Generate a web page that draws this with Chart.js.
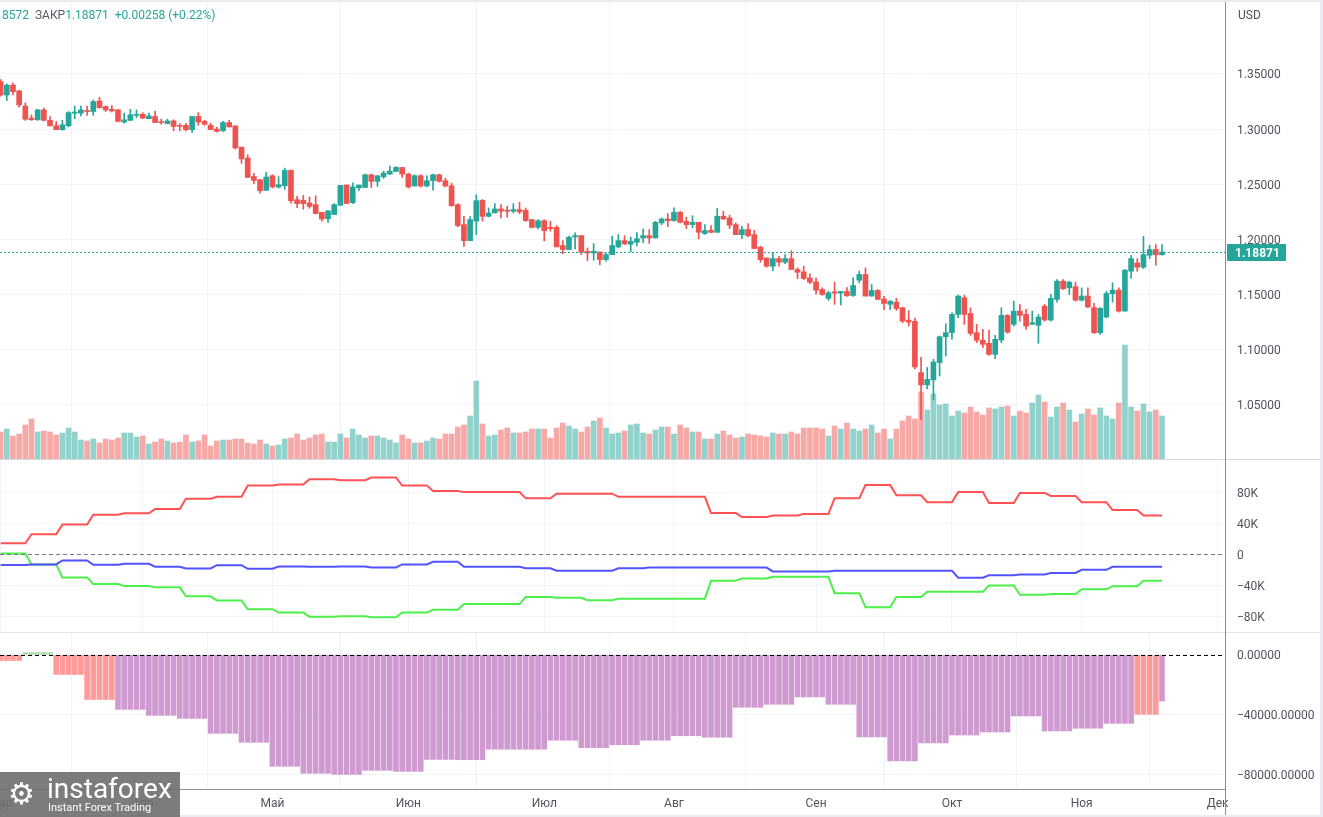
<!DOCTYPE html>
<html>
<head>
<meta charset="utf-8">
<script src="https://cdn.jsdelivr.net/npm/chart.js@4.4.0/dist/chart.umd.min.js"></script>
<style>
  body { margin: 0; background: #fff; font-family: Roboto, "Liberation Sans", sans-serif; }
  #wrap { position: relative; width: 1323px; height: 817px; overflow: hidden; background: #fff; }
  #wrap canvas { position: absolute; left: 0; }
  .hline { position: absolute; left: 0; height: 1px; }
  .vline { position: absolute; top: 0; width: 1px; }
  #legend { position: absolute; left: 2px; top: 8px; font-size: 12px; color: #26a69a; white-space: pre; }
  #legend .k { color: #555a66; }
  #usd { position: absolute; left: 1238px; top: 8px; font-size: 12px; color: #50535e; }
  #logo { position: absolute; left: 0; top: 772px; width: 180px; height: 45px; background: rgba(110,110,110,0.9); color: #fff; }
  #logo .big { position: absolute; left: 47px; top: 0px; font-size: 28px; }
  #logo .small { position: absolute; left: 48px; top: 29px; font-size: 11px; }
  #logo .icon { position: absolute; left: 8px; top: 4px; font-size: 30px; }
</style>
</head>
<body>
<div id="wrap">
  <canvas id="priceChart" width="1323" height="459" style="top:0"></canvas>
  <canvas id="cotChart" width="1323" height="172" style="top:460px"></canvas>
  <canvas id="histChart" width="1323" height="184" style="top:633px"></canvas>

  <div class="hline" style="top:459px;width:1323px;background:#d6d9e0"></div>
  <div class="hline" style="top:632px;width:1323px;background:#e0e3eb"></div>
  <div class="hline" style="top:789px;width:1225px;background:#8a8e99"></div>
  <div class="vline" style="left:1225px;height:817px;background:#8a8e99"></div>
  <div class="hline" style="top:0;width:1323px;height:2px;background:#e9ebf0"></div>
  <div class="vline" style="left:1320px;height:817px;width:3px;background:#e9ebf0"></div>
  <div class="hline" style="top:815px;width:1323px;height:2px;background:#e9ebf0"></div>

  <div id="legend">8572  <span class="k">ЗАКР</span>1.18871  +0.00258 (+0.22%)</div>
  <div id="usd">USD</div>
  <div id="logo"><span class="icon">⚙</span><span class="big">instaforex</span><span class="small">Instant Forex Trading</span></div>
</div>

<script>
// daily candles, trading day index 0 = 1 Mar
const opens = [
  1.3430,1.3310,1.3400,1.3347,1.3210,1.3100,1.3085,1.3175,1.3080,1.3030,
  1.2995,1.3030,1.3145,1.3145,1.3170,1.3160,1.3255,1.3205,1.3180,1.3175,
  1.3065,1.3080,1.3125,1.3135,1.3095,1.3115,1.3065,1.3050,1.3075,1.3030,
  1.3035,1.2995,1.3115,1.3070,1.3035,1.3000,1.2985,1.3060,1.3030,1.2837,
  1.2738,1.2571,1.2542,1.2445,1.2578,1.2475,1.2488,1.2626,1.2361,1.2355,
  1.2331,1.2316,1.2246,1.2189,1.2226,1.2310,1.2494,1.2334,1.2468,1.2472,
  1.2587,1.2527,1.2569,1.2593,1.2617,1.2653,1.2593,1.2485,1.2578,1.2485,
  1.2533,1.2587,1.2533,1.2487,1.2316,1.2135,1.1990,1.2167,1.2355,1.2210,
  1.2241,1.2277,1.2265,1.2256,1.2271,1.2265,1.2180,1.2110,1.2171,1.2111,
  1.2110,1.1945,1.1909,1.2023,1.2035,1.1893,1.1878,1.1887,1.1818,1.1863,
  1.1933,1.1990,1.1957,1.1975,1.2014,1.2035,1.2014,1.2150,1.2186,1.2171,
  1.2246,1.2165,1.2135,1.2156,1.2054,1.2084,1.2065,1.2211,1.2196,1.2135,
  1.2044,1.2090,1.2044,1.1930,1.1833,1.1758,1.1827,1.1794,1.1827,1.1728,
  1.1707,1.1652,1.1616,1.1547,1.1466,1.1526,1.1514,1.1529,1.1493,1.1631,
  1.1683,1.1487,1.1538,1.1460,1.1412,1.1432,1.1382,1.1269,1.1258,1.0794,
  1.0682,1.0727,1.0884,1.1119,1.1156,1.1321,1.1472,1.1330,1.1155,1.1086,
  1.1059,1.0959,1.1089,1.1312,1.1231,1.1351,1.1321,1.1231,1.1222,1.1396,
  1.1270,1.1457,1.1622,1.1562,1.1571,1.1450,1.1487,1.1382,1.1155,1.1297,
  1.1508,1.1541,1.1351,1.1713,1.1788,1.1749,1.1857,1.1909,1.1862
];
const highs = [
  1.3450,1.3410,1.3420,1.3350,1.3240,1.3130,1.3180,1.3190,1.3115,1.3070,
  1.3080,1.3160,1.3210,1.3210,1.3210,1.3265,1.3290,1.3210,1.3215,1.3180,
  1.3145,1.3180,1.3175,1.3150,1.3145,1.3165,1.3090,1.3090,1.3085,1.3050,
  1.3050,1.3115,1.3150,1.3080,1.3055,1.3020,1.3070,1.3080,1.3030,1.2837,
  1.2768,1.2600,1.2542,1.2610,1.2587,1.2570,1.2647,1.2632,1.2392,1.2400,
  1.2385,1.2397,1.2246,1.2260,1.2325,1.2490,1.2494,1.2513,1.2494,1.2593,
  1.2593,1.2578,1.2620,1.2667,1.2662,1.2653,1.2602,1.2587,1.2587,1.2578,
  1.2593,1.2593,1.2556,1.2511,1.2325,1.2210,1.2208,1.2406,1.2362,1.2286,
  1.2325,1.2316,1.2301,1.2325,1.2337,1.2286,1.2180,1.2180,1.2180,1.2165,
  1.2126,1.1990,1.2030,1.2060,1.2035,1.1923,1.1963,1.1887,1.1878,1.2029,
  1.2045,1.2035,1.2023,1.2062,1.2095,1.2090,1.2165,1.2195,1.2235,1.2286,
  1.2256,1.2202,1.2216,1.2156,1.2135,1.2126,1.2281,1.2256,1.2220,1.2150,
  1.2120,1.2144,1.2084,1.1940,1.1833,1.1878,1.1848,1.1863,1.1899,1.1743,
  1.1758,1.1688,1.1652,1.1562,1.1532,1.1614,1.1529,1.1565,1.1652,1.1713,
  1.1743,1.1592,1.1547,1.1484,1.1448,1.1466,1.1382,1.1355,1.1287,1.0932,
  1.0840,1.0914,1.1125,1.1236,1.1336,1.1496,1.1496,1.1381,1.1231,1.1185,
  1.1179,1.1131,1.1381,1.1320,1.1442,1.1411,1.1366,1.1351,1.1321,1.1411,
  1.1502,1.1637,1.1637,1.1622,1.1613,1.1562,1.1562,1.1421,1.1382,1.1532,
  1.1607,1.1562,1.1728,1.1857,1.1827,1.2029,1.1948,1.1954,1.1954
];
const lows = [
  1.3300,1.3260,1.3310,1.3200,1.3080,1.3080,1.3080,1.3075,1.3030,1.2995,
  1.2990,1.3020,1.3095,1.3120,1.3125,1.3125,1.3190,1.3160,1.3155,1.3065,
  1.3055,1.3080,1.3105,1.3095,1.3095,1.3060,1.3045,1.3050,1.2985,1.2985,
  1.2985,1.2970,1.3035,1.3035,1.2995,1.2975,1.2980,1.3020,1.2820,1.2690,
  1.2560,1.2505,1.2420,1.2445,1.2466,1.2466,1.2456,1.2330,1.2289,1.2274,
  1.2283,1.2235,1.2166,1.2155,1.2226,1.2310,1.2326,1.2325,1.2443,1.2472,
  1.2472,1.2482,1.2554,1.2587,1.2617,1.2563,1.2466,1.2485,1.2476,1.2476,
  1.2448,1.2520,1.2476,1.2300,1.2114,1.1938,1.1990,1.2045,1.2167,1.2205,
  1.2241,1.2196,1.2202,1.2241,1.2232,1.2165,1.2105,1.2096,1.1986,1.2075,
  1.1933,1.1870,1.1909,1.1913,1.1863,1.1806,1.1812,1.1769,1.1803,1.1863,
  1.1924,1.1954,1.1888,1.1942,1.1972,1.1966,1.2014,1.2135,1.2116,1.2165,
  1.2150,1.2099,1.2105,1.2005,1.2045,1.2059,1.2065,1.2180,1.2099,1.2044,
  1.2008,1.2023,1.1918,1.1794,1.1749,1.1718,1.1758,1.1782,1.1728,1.1646,
  1.1637,1.1600,1.1504,1.1493,1.1448,1.1412,1.1406,1.1484,1.1484,1.1607,
  1.1487,1.1487,1.1457,1.1365,1.1365,1.1357,1.1245,1.1215,1.0827,1.0365,
  1.0648,1.0546,1.0763,1.0944,1.1096,1.1291,1.1231,1.1131,1.1065,1.1020,
  1.0950,1.0920,1.1065,1.1149,1.1216,1.1260,1.1185,1.1231,1.1059,1.1261,
  1.1261,1.1433,1.1547,1.1502,1.1442,1.1442,1.1381,1.1149,1.1140,1.1291,
  1.1432,1.1342,1.1351,1.1649,1.1713,1.1737,1.1827,1.1767,1.1857
];
const closes = [
  1.3310,1.3400,1.3340,1.3220,1.3090,1.3085,1.3175,1.3080,1.3030,1.2995,
  1.3040,1.3150,1.3155,1.3175,1.3160,1.3250,1.3195,1.3175,1.3165,1.3070,
  1.3085,1.3130,1.3135,1.3100,1.3120,1.3060,1.3060,1.3075,1.3025,1.3025,
  1.2995,1.3115,1.3065,1.3045,1.2995,1.2980,1.3060,1.3020,1.2830,1.2730,
  1.2563,1.2535,1.2442,1.2566,1.2476,1.2497,1.2626,1.2352,1.2325,1.2325,
  1.2300,1.2235,1.2186,1.2260,1.2316,1.2490,1.2326,1.2477,1.2494,1.2587,
  1.2527,1.2578,1.2602,1.2620,1.2653,1.2593,1.2476,1.2578,1.2485,1.2533,
  1.2587,1.2527,1.2485,1.2306,1.2126,1.1990,1.2180,1.2352,1.2210,1.2240,
  1.2277,1.2256,1.2256,1.2271,1.2250,1.2171,1.2110,1.2170,1.2080,1.2099,
  1.1933,1.1909,1.2020,1.2035,1.1884,1.1878,1.1893,1.1818,1.1863,1.1945,
  1.1990,1.1960,1.1984,1.2008,1.2035,1.2014,1.2156,1.2186,1.2171,1.2246,
  1.2156,1.2135,1.2156,1.2065,1.2081,1.2065,1.2211,1.2186,1.2129,1.2044,
  1.2090,1.2035,1.1918,1.1818,1.1758,1.1827,1.1794,1.1827,1.1728,1.1703,
  1.1646,1.1613,1.1541,1.1502,1.1517,1.1514,1.1529,1.1490,1.1583,1.1683,
  1.1487,1.1538,1.1457,1.1420,1.1439,1.1375,1.1260,1.1251,1.0845,1.0682,
  1.0733,1.0889,1.1119,1.1156,1.1321,1.1487,1.1321,1.1149,1.1086,1.1050,
  1.0959,1.1095,1.1312,1.1161,1.1351,1.1312,1.1216,1.1246,1.1297,1.1270,
  1.1466,1.1622,1.1553,1.1613,1.1450,1.1487,1.1388,1.1155,1.1376,1.1511,
  1.1541,1.1351,1.1722,1.1827,1.1749,1.1863,1.1909,1.18613,1.18871
];
const volumes = [
  27,30,23,25,34,40,27,28,27,24, 26,31,27,19,18,20,16,20,19,21,
  26,26,22,23,15,17,20,18,16,17, 24,17,18,24,13,18,19,19,20,20,
  16,15,19,15,13,14,20,21,25,19, 21,24,25,17,17,25,21,30,24,21,
  23,23,21,19,16,24,20,16,16,18, 21,20,25,25,32,34,43,78,35,23,
  24,29,31,26,26,27,30,30,30,21, 31,36,33,30,27,32,38,41,31,25,
  26,28,34,35,26,25,29,32,32,25, 34,31,27,27,20,20,25,28,24,21,
  22,25,24,23,22,26,25,25,27,25, 31,31,31,30,23,33,30,36,30,28,
  30,34,26,30,20,30,38,43,40,67, 49,65,54,55,43,48,46,52,47,44,
  51,50,52,53,43,48,46,56,64,57, 42,52,56,49,37,45,50,44,51,43,
  40,56,114,52,48,55,47,49,43
];

// weekly COT net positions (one value per report week)
const commercials = [
  14300,25800,38200,51000,52700,58200,71400,74000,88500,89800,
  96600,95400,98800,88500,81300,80000,80000,72000,78000,78000,
  74000,74000,74000,53000,48000,50000,52000,72000,89000,76000,
  67000,80000,66000,79000,75000,67000,57000,50000
];
const smallTraders = [
  -13800,-13000,-7900,-13400,-12200,-16000,-18100,-13900,-18600,-15600,
  -16000,-15600,-16900,-13000,-9600,-16000,-16000,-18000,-21000,-21000,
  -18000,-17000,-17000,-17000,-17000,-22000,-22000,-21000,-21000,-21000,
  -21000,-30000,-27000,-26000,-24000,-20000,-16000,-16000
];
const largeSpecs = [
  1000,-13000,-29700,-38200,-40700,-42500,-54000,-59500,-70600,-74900,
  -80400,-79600,-80900,-74900,-71400,-64000,-64000,-55000,-56000,-59000,
  -57000,-57000,-57000,-34000,-31000,-29000,-29000,-50000,-68000,-55000,
  -48000,-48000,-40000,-52000,-51000,-45000,-41000,-34000
];

// weekly net histogram, plus the value published on the last day
const netHist = [
  -3800,1500,-13100,-29800,-36400,-40400,-42400,-52400,-58400,-74400,
  -79100,-79800,-77100,-77800,-69800,-70000,-63000,-63000,-57000,-62000,
  -60000,-57000,-54000,-55000,-35000,-33000,-28100,-33000,-54800,-70800,
  -58800,-53500,-51500,-40800,-50800,-49000,-45700,-39700
];
const netHistLatest = -30800;

const monthStarts = [0, 23, 44, 66, 88, 109, 132, 154, 175, 197];
const monthNames  = ['Мар', 'Апр', 'Май', 'Июн', 'Июл', 'Авг', 'Сен', 'Окт', 'Ноя', 'Дек'];
const priceTicks  = [1.05, 1.10, 1.15, 1.20, 1.25, 1.30, 1.35];
const cotTicks    = [-80000, -40000, 0, 40000, 80000];
const histTicks   = [-80000, -40000, 0];

// styles
const UP = '#26a69a', DOWN = '#ef5350';
const UP_VOL = 'rgba(38,166,154,0.5)', DOWN_VOL = 'rgba(239,83,80,0.5)';
const GRID = '#f0f3fa', TEXT = '#50535e';
const HIST_PURPLE = '#ce9ad0', HIST_SALMON = '#ff9a9a', HIST_GREEN = '#a5d6a7';
const salmonGroups = [0, 2, 3, 37];
const X_MIN = -0.1, X_MAX = 198.2, AXIS_W = 98;

Chart.defaults.font.family = 'Roboto, "Liberation Sans", sans-serif';
Chart.defaults.font.size = 12;
Chart.defaults.color = TEXT;

const days = closes.map((_, i) => i);
const last = closes.length - 1;
const isUp = i => closes[i] >= opens[i];
const weekly = arr => days.map(i => ({ x: i, y: arr[Math.floor(i / 5)] }));
const histGroup = i => Math.floor((i + 1) / 5);
const histValue = i => i === last ? netHistLatest : netHist[histGroup(i)];

function minus(s) {
    return String(s).replace('-', '\u2212');
}

function xScale(showLabels) {
    return {
        type: 'linear',
        min: X_MIN,
        max: X_MAX,
        offset: false,
        afterBuildTicks: s => { s.ticks = monthStarts.map(v => ({ value: v })); },
        afterFit: s => {
            s.height = showLabels ? 28 : 0;
            s.paddingLeft = 0;
            s.paddingRight = 0;
        },
        grid: { color: GRID, drawTicks: false },
        border: { display: false },
        ticks: {
            display: showLabels,
            autoSkip: false,
            maxRotation: 0,
            padding: 8,
            color: TEXT,
            callback: v => monthNames[monthStarts.indexOf(v)]
        }
    };
}

function yScale(min, max, ticks, format) {
    return {
        position: 'right',
        min: min,
        max: max,
        afterBuildTicks: s => { s.ticks = ticks.map(v => ({ value: v })); },
        afterFit: s => {
            s.width = AXIS_W;
            s.paddingTop = 0;
            s.paddingBottom = 0;
        },
        grid: { color: GRID, drawTicks: false },
        border: { display: false },
        ticks: { padding: 12, labelOffset: 1.5, color: TEXT, callback: format }
    };
}

const paneLines = {
    id: 'paneLines',
    afterDatasetsDraw(chart, args, opts) {
        const { ctx, chartArea: a, scales } = chart;
        (opts.lines || []).forEach(l => {
            const py = Math.round(scales.y.getPixelForValue(l.value)) + 0.5;
            ctx.save();
            ctx.strokeStyle = l.color;
            ctx.lineWidth = 1;
            ctx.setLineDash(l.dash);
            ctx.beginPath();
            ctx.moveTo(a.left, py);
            ctx.lineTo(a.right, py);
            ctx.stroke();
            if (l.tag) {
                ctx.setLineDash([]);
                ctx.fillStyle = l.color;
                ctx.fillRect(a.right + 2, py - 8.5, 59, 17);
                ctx.fillStyle = '#fff';
                ctx.font = 'bold 12px Roboto, "Liberation Sans", sans-serif';
                ctx.textBaseline = 'middle';
                ctx.fillText(l.tag, a.right + 10, py + 1);
            }
            ctx.restore();
        });
    }
};

const baseOptions = {
    responsive: false,
    animation: false,
    events: [],
    layout: { padding: 0 },
};

new Chart(document.getElementById('priceChart'), {
    type: 'bar',
    plugins: [paneLines],
    data: {
        datasets: [{
            data: days.map(i => ({ x: i, y: [opens[i], closes[i]] })),
            backgroundColor: days.map(i => isUp(i) ? UP : DOWN),
            barThickness: 5,
            minBarLength: 1,
            grouped: false,
            yAxisID: 'y',
            order: 0
        }, {
            data: days.map(i => ({ x: i, y: [lows[i], highs[i]] })),
            backgroundColor: days.map(i => isUp(i) ? UP : DOWN),
            barThickness: 1,
            grouped: false,
            yAxisID: 'y',
            order: 1
        }, {
            data: days.map(i => ({ x: i, y: volumes[i] })),
            backgroundColor: days.map(i => isUp(i) ? UP_VOL : DOWN_VOL),
            barThickness: 5,
            grouped: false,
            yAxisID: 'yv',
            order: 2
        }]
    },
    options: {
        ...baseOptions,
        plugins: {
            legend: { display: false },
            tooltip: { enabled: false },
            paneLines: { lines: [{ value: closes[last], color: UP, dash: [2, 2], tag: closes[last].toFixed(5) }] }
        },
        scales: {
            x: xScale(false),
            y: yScale(1.00105, 1.41707, priceTicks, v => v.toFixed(5)),
            yv: { display: false, min: 0, max: 459 }
        }
    }
});

new Chart(document.getElementById('cotChart'), {
    type: 'line',
    plugins: [paneLines],
    data: {
        datasets: [
            { data: weekly(commercials), borderColor: '#ff5252' },
            { data: weekly(smallTraders), borderColor: '#5252ff' },
            { data: weekly(largeSpecs), borderColor: '#4cf04c' }
        ].map(d => ({ ...d, borderWidth: 2, pointRadius: 0, tension: 0, fill: false }))
    },
    options: {
        ...baseOptions,
        plugins: {
            legend: { display: false },
            tooltip: { enabled: false },
            paneLines: { lines: [{ value: 0, color: '#787b86', dash: [4, 3] }] }
        },
        scales: {
            x: xScale(false),
            y: yScale(-99900, 121300, cotTicks, v => v === 0 ? '0' : minus((v / 1000) + 'K'))
        }
    }
});

new Chart(document.getElementById('histChart'), {
    type: 'bar',
    plugins: [paneLines],
    data: {
        datasets: [{
            data: days.map(i => ({ x: i, y: histValue(i) })),
            backgroundColor: days.map(i => {
                if (histValue(i) > 0) return HIST_GREEN;
                if (i !== last && salmonGroups.includes(histGroup(i))) return HIST_SALMON;
                return HIST_PURPLE;
            }),
            barThickness: 5,
            grouped: false
        }]
    },
    options: {
        ...baseOptions,
        plugins: {
            legend: { display: false },
            tooltip: { enabled: false },
            paneLines: { lines: [{ value: 0, color: '#000', dash: [4, 3] }] }
        },
        scales: {
            x: xScale(true),
            y: yScale(-89550, 14600, histTicks, v => minus(v.toFixed(5)))
        }
    }
});
</script>
</body>
</html>
